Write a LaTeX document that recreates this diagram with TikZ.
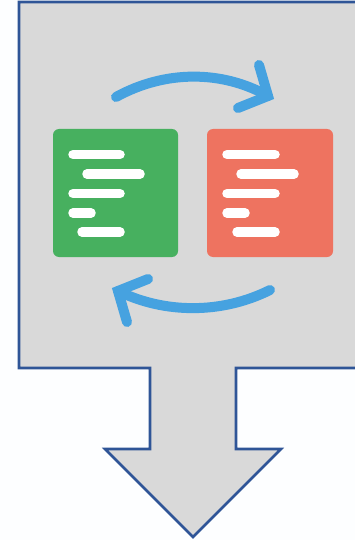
\documentclass[tikz,border=0pt]{standalone}
\definecolor{bgc}{HTML}{FDFEFF}
\definecolor{panel}{HTML}{D9D9D9}
\definecolor{edge}{HTML}{2F5597}
\definecolor{okgreen}{HTML}{47B05F}
\definecolor{badred}{HTML}{EE7360}
\definecolor{arrowblue}{HTML}{46A2E0}
\tikzset{
  outline/.style={fill=panel,draw=edge,line width=2.6pt,line join=miter},
  card/.style={rounded corners=6pt,draw=none},
  bar/.style={white,line width=9.5pt,line cap=round},
  cycle arrow/.style={arrowblue,line width=10pt,line cap=round,line join=miter}
}
\begin{document}
\begin{tikzpicture}[x=1pt,y=-1pt]
\useasboundingbox (0,0) rectangle (355,540);
\fill[bgc] (0,0) rectangle (355,540);
% panel with down arrow
\draw[outline] (360,2) -- (19,2) -- (19,368) -- (150,368) -- (150,449) -- (105,449) -- (193,537) -- (281,449) -- (236,449) -- (236,368) -- (360,368);
% green card
\fill[okgreen,card] (53,129) rectangle (178,257);
\draw[bar] (73,154.5) -- (120,154.5);
\draw[bar] (87,174) -- (140,174);
\draw[bar] (73,193.5) -- (120,193.5);
\draw[bar] (73,213) -- (91,213);
\draw[bar] (82,232) -- (120,232);
% red card
\fill[badred,card] (207,129) rectangle (333,257);
\draw[bar] (227,154.5) -- (275,154.5);
\draw[bar] (241,174) -- (294,174);
\draw[bar] (227,193.5) -- (275,193.5);
\draw[bar] (227,213) -- (245,213);
\draw[bar] (237,232) -- (275,232);
% cycle arrows
\draw[cycle arrow] (116,97) .. controls (165,70) and (222,70) .. (268,96);
\draw[cycle arrow] (259,65) -- (268,96) -- (238,108);
\draw[cycle arrow] (270,290) .. controls (222,314) and (165,314) .. (118,291);
\draw[cycle arrow] (148,279) -- (118,291) -- (127,322);
\end{tikzpicture}
\end{document}
